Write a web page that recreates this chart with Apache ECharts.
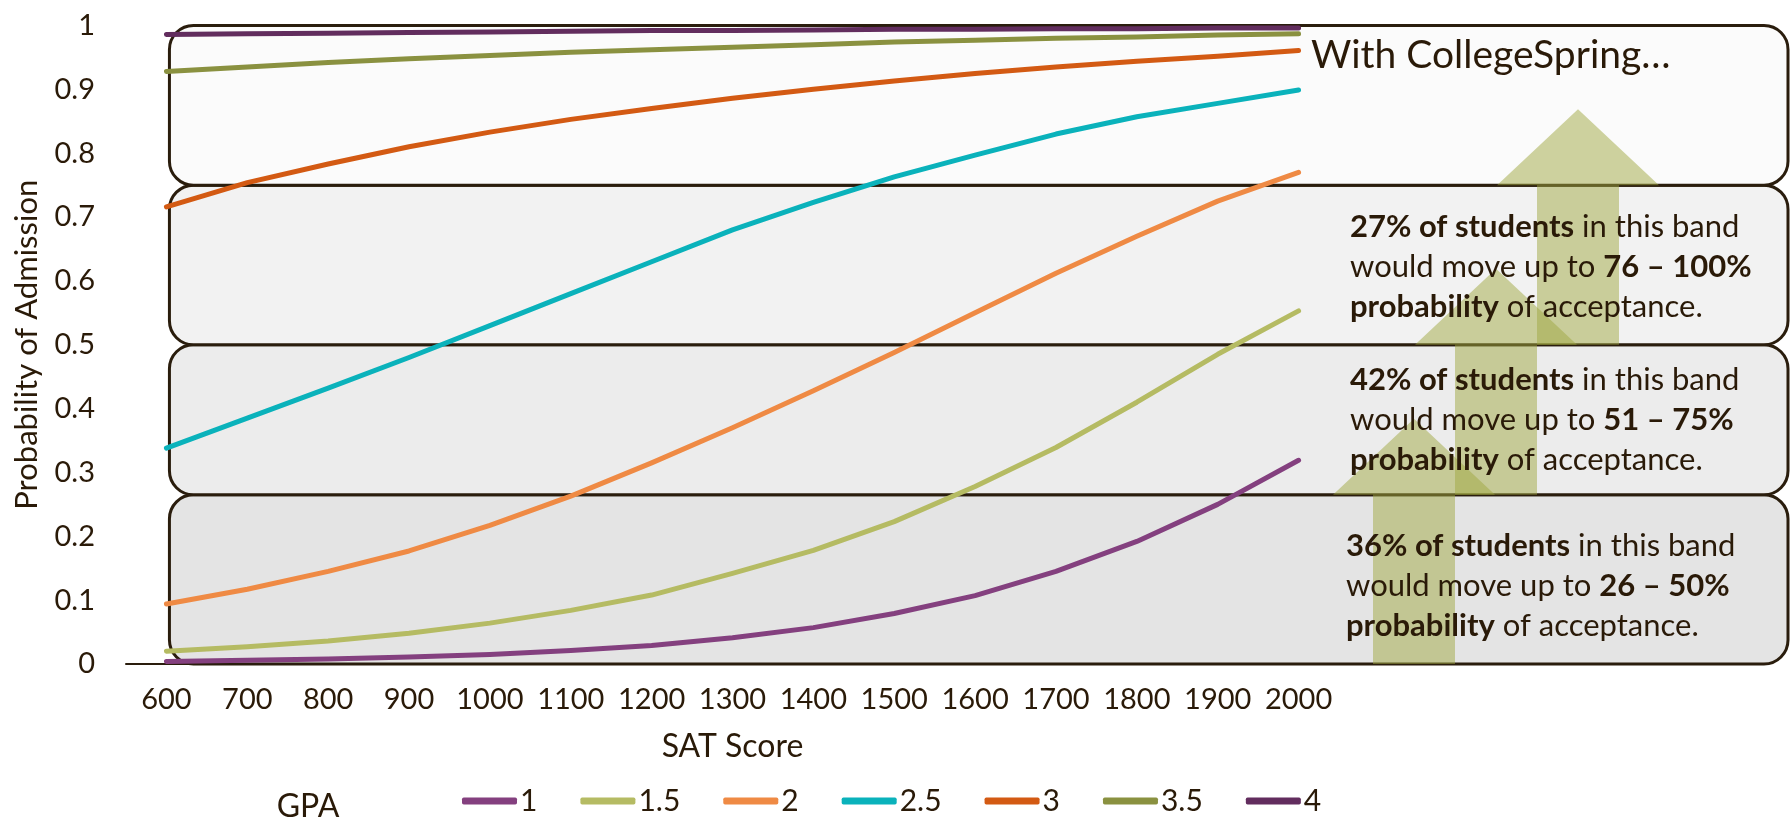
<!DOCTYPE html>
<html>
<head>
<meta charset="utf-8">
<script src="https://cdn.jsdelivr.net/npm/echarts@6/dist/echarts.min.js"></script>
<style>
  html, body { margin: 0; padding: 0; background: #ffffff; }
  #main { width: 1790px; height: 822px; }
</style>
</head>
<body>
<div id="main"></div>
<script>
// SAT score categories along the x axis
const satScores = ['600', '700', '800', '900', '1000', '1100', '1200', '1300',
  '1400', '1500', '1600', '1700', '1800', '1900', '2000'];

// Probability of admission for each GPA level
const gpa1  = [0.004, 0.006, 0.008, 0.011, 0.015, 0.021, 0.029, 0.041, 0.057, 0.079, 0.107, 0.145, 0.192, 0.250, 0.319];
const gpa15 = [0.020, 0.027, 0.036, 0.048, 0.064, 0.084, 0.108, 0.142, 0.178, 0.223, 0.278, 0.339, 0.410, 0.485, 0.553];
const gpa2  = [0.094, 0.117, 0.145, 0.177, 0.217, 0.263, 0.315, 0.370, 0.428, 0.488, 0.550, 0.612, 0.670, 0.725, 0.770];
const gpa25 = [0.338, 0.385, 0.432, 0.480, 0.530, 0.580, 0.630, 0.680, 0.723, 0.763, 0.797, 0.830, 0.857, 0.878, 0.899];
const gpa3  = [0.716, 0.754, 0.783, 0.810, 0.833, 0.853, 0.870, 0.886, 0.900, 0.913, 0.925, 0.935, 0.944, 0.952, 0.961];
const gpa35 = [0.928, 0.935, 0.942, 0.948, 0.953, 0.958, 0.962, 0.966, 0.970, 0.974, 0.977, 0.980, 0.982, 0.985, 0.987];
const gpa4  = [0.986, 0.987, 0.988, 0.989, 0.990, 0.991, 0.992, 0.992, 0.993, 0.994, 0.994, 0.995, 0.995, 0.996, 0.996];

const gpaLabels = ['1', '1.5', '2', '2.5', '3', '3.5', '4'];
const gpaSeries = [gpa1, gpa15, gpa2, gpa25, gpa3, gpa35, gpa4];
const gpaColors = ['#84407f', '#b5bb63', '#ef8a44', '#0ab2bb', '#d35a13', '#8a9140', '#622d5e'];

// Probability bands (bottom to top) and their shading
const bandEdges = [0, 0.265, 0.5, 0.75, 1];
const bandFills = ['#e4e4e4', '#ececec', '#f2f2f2', '#fbfbfb'];

// Notes for the three lower bands (bottom to top)
const bandNotes = [
  '{b|36% of students} in this band\nwould move up to {b|26 – 50%}\n{b|probability} of acceptance.',
  '{b|42% of students} in this band\nwould move up to {b|51 – 75%}\n{b|probability} of acceptance.',
  '{b|27% of students} in this band\nwould move up to {b|76 – 100%}\n{b|probability} of acceptance.'
];
const headline = 'With CollegeSpring…';

const FONT = 'Lato, "Noto Sans", sans-serif';
const INK = '#2a1a08';
const BORDER = '#2a1d0d';

const chart = echarts.init(document.getElementById('main'), null, { renderer: 'canvas' });

chart.setOption({
  animation: false,
  backgroundColor: '#ffffff',
  textStyle: { fontFamily: FONT, color: INK },
  grid: { left: 126, right: 451, top: 25.5, bottom: 158, containLabel: false },
  xAxis: {
    type: 'category',
    data: satScores,
    boundaryGap: true,
    axisLine: { lineStyle: { color: BORDER, width: 2 } },
    axisTick: { show: false },
    axisLabel: { fontSize: 29, color: INK, margin: 21, interval: 0, fontFamily: FONT },
    name: 'SAT Score',
    nameLocation: 'middle',
    nameGap: 67,
    nameTextStyle: { fontSize: 32, color: INK, fontFamily: FONT }
  },
  yAxis: {
    type: 'value',
    min: 0,
    max: 1,
    interval: 0.1,
    axisLine: { show: false },
    axisTick: { show: false },
    splitLine: { show: false },
    axisLabel: { fontSize: 29, color: INK, margin: 31, fontFamily: FONT },
    name: 'Probability of Admission',
    nameLocation: 'middle',
    nameGap: 84,
    nameTextStyle: { fontSize: 31, color: INK, fontFamily: FONT }
  },
  legend: {
    left: 457,
    top: 781,
    itemWidth: 55,
    itemHeight: 7,
    itemGap: 43,
    icon: 'roundRect',
    textStyle: { fontSize: 30, color: INK, fontFamily: FONT, padding: [0, 0, 0, -2] },
    data: gpaLabels
  },
  series: gpaSeries.map((vals, i) => ({
    name: gpaLabels[i],
    type: 'line',
    data: vals,
    showSymbol: false,
    symbol: 'none',
    smooth: false,
    z: 3,
    lineStyle: { color: gpaColors[i], width: 5, cap: 'round', join: 'round' },
    itemStyle: { color: gpaColors[i] }
  }))
});

// Band boxes, arrows and notes placed from the axis scales
const yPx = v => chart.convertToPixel({ yAxisIndex: 0 }, v);
const boxLeft = chart.convertToPixel({ xAxisIndex: 0 }, satScores[0]) + 3;
const boxRight = 1788;
const graphics = [];

for (let i = 0; i < bandFills.length; i++) {
  const top = yPx(bandEdges[i + 1]);
  const bottom = yPx(bandEdges[i]);
  graphics.push({
    type: 'rect',
    z: 0,
    z2: i,
    shape: { x: boxLeft, y: top, width: boxRight - boxLeft, height: bottom - top, r: 24 },
    style: { fill: bandFills[i], stroke: BORDER, lineWidth: 3 }
  });
}

// Upward arrows: each shaft spans a band, its head rises into the next one
const arrowShaftLeft = [1373, 1455, 1537];
const shaftWidth = 82;
const headHalf = 81;
const headHeight = 76;
for (let i = 0; i < 3; i++) {
  const base = yPx(bandEdges[i]);
  const neck = yPx(bandEdges[i + 1]);
  const l = arrowShaftLeft[i];
  const r = l + shaftWidth;
  const c = (l + r) / 2;
  graphics.push({
    type: 'polygon',
    z: 1,
    shape: {
      points: [[l, base], [l, neck], [c - headHalf, neck], [c, neck - headHeight],
               [c + headHalf, neck], [r, neck], [r, base]]
    },
    style: { fill: 'rgba(160,168,66,0.5)' }
  });
}

const noteSize = 31;
const noteLead = 40;
const noteRich = {
  b: { fontSize: noteSize, fontFamily: FONT, fontWeight: 'bold', fill: INK, lineHeight: noteLead }
};
const noteOffsets = [7, 0, 2];
for (let i = 0; i < 3; i++) {
  const mid = (yPx(bandEdges[i]) + yPx(bandEdges[i + 1])) / 2 + noteOffsets[i];
  graphics.push({
    type: 'text',
    z: 2,
    x: i === 0 ? 1346 : 1350,
    y: mid,
    style: {
      text: bandNotes[i],
      rich: noteRich,
      fontSize: noteSize,
      fontFamily: FONT,
      fill: INK,
      lineHeight: noteLead,
      verticalAlign: 'middle',
      align: 'left'
    }
  });
}

graphics.push({
  type: 'text',
  z: 2,
  x: 1311,
  y: yPx(bandEdges[4]) + 30,
  style: { text: headline, fontSize: 39, fontFamily: FONT, fill: INK, verticalAlign: 'middle', align: 'left' }
});

graphics.push({
  type: 'text',
  z: 2,
  x: 308,
  y: 807,
  style: { text: 'GPA', fontSize: 32, fontFamily: FONT, fill: INK, verticalAlign: 'middle', align: 'center' }
});

chart.setOption({ graphic: { elements: graphics } });
</script>
</body>
</html>
